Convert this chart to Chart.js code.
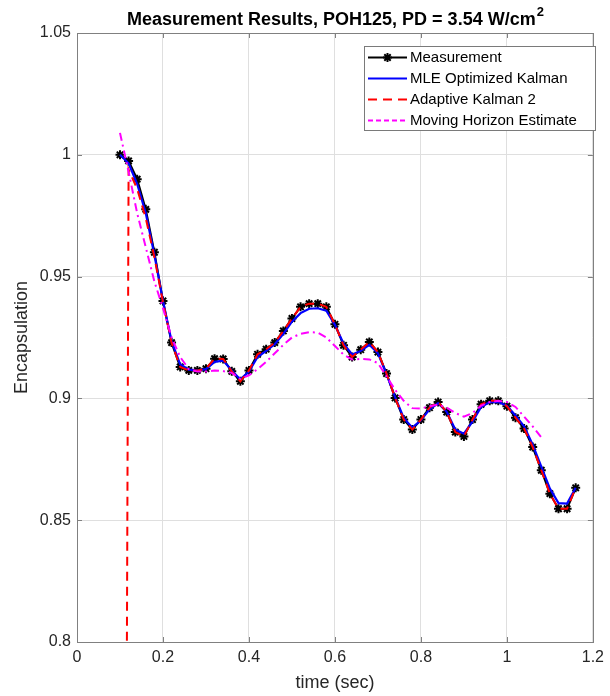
<!DOCTYPE html>
<html><head><meta charset="utf-8">
<script src="https://cdn.jsdelivr.net/npm/chart.js@4/dist/chart.umd.min.js"></script>
<style>html,body{margin:0;padding:0;background:#fff;overflow:hidden}</style>
</head><body>
<canvas id="c" width="610" height="696" style="width:610px;height:696px;display:block"></canvas>
<script>
// ---- data ----
const chartTitle = 'Measurement Results, POH125, PD = 3.54 W/cm';
const chartTitleSup = '2';
const xTitle = 'time (sec)';
const yTitle = 'Encapsulation';
const seriesNames = ['Measurement', 'MLE Optimized Kalman', 'Adaptive Kalman 2', 'Moving Horizon Estimate'];

const timeSec = [0.10,0.12,0.14,0.16,0.18,0.20,0.22,0.24,0.26,0.28,0.30,0.32,0.34,0.36,0.38,0.40,0.42,0.44,0.46,0.48,
  0.50,0.52,0.54,0.56,0.58,0.60,0.62,0.64,0.66,0.68,0.70,0.72,0.74,0.76,0.78,0.80,0.82,0.84,0.86,0.88,
  0.90,0.92,0.94,0.96,0.98,1.00,1.02,1.04,1.06,1.08,1.10,1.12,1.14,1.16];

const measurement = [1.000,0.9975,0.990,0.9776,0.960,0.940,0.9229,0.9129,0.9115,0.9115,0.9122,0.9163,0.9162,0.9111,0.9070,0.9115,0.9181,0.9202,0.9229,0.9277,
  0.9328,0.9376,0.9389,0.9389,0.9376,0.9304,0.9218,0.9170,0.9200,0.9232,0.9190,0.9102,0.9002,0.8913,0.8872,0.8913,0.8962,0.8985,0.8944,0.8862,
  0.8844,0.8913,0.8976,0.8990,0.8990,0.8968,0.8921,0.8876,0.8800,0.8705,0.8609,0.8547,0.8547,0.8633];

const mleKalman = [1.000,0.9965,0.988,0.976,0.959,0.940,0.9235,0.914,0.9118,0.9115,0.912,0.915,0.9155,0.9115,0.9078,0.911,0.917,0.9195,0.9222,0.9265,
  0.9315,0.935,0.9368,0.9370,0.936,0.9302,0.9225,0.918,0.9195,0.922,0.9185,0.910,0.9005,0.892,0.888,0.891,0.8955,0.898,0.8945,0.8872,
  0.8855,0.8905,0.8965,0.8985,0.8985,0.897,0.893,0.8885,0.881,0.872,0.863,0.857,0.8568,0.8633];

const adaptiveKalman2 = [0.000,0.994,0.986,0.974,0.958,0.9395,0.9229,0.9129,0.9115,0.9115,0.9122,0.9163,0.9162,0.9111,0.9070,0.9115,0.9181,0.9202,0.9229,0.9277,
  0.9328,0.9376,0.9389,0.9389,0.9376,0.9304,0.9218,0.9170,0.9200,0.9232,0.9190,0.9102,0.9002,0.8913,0.8872,0.8913,0.8962,0.8985,0.8944,0.8862,
  0.8844,0.8913,0.8976,0.8990,0.8990,0.8968,0.8921,0.8876,0.8800,0.8705,0.8609,0.8547,0.8547,0.8633];

const mheTimeSec = [0.10,0.12,0.14,0.16,0.18,0.20,0.22,0.24,0.26,0.28,0.30,0.32,0.34,0.36,0.38,0.40,0.42,0.44,0.46,0.48,
  0.50,0.52,0.54,0.56,0.58,0.60,0.62,0.64,0.66,0.68,0.70,0.72,0.74,0.76,0.78,0.80,0.82,0.84,0.86,0.88,
  0.90,0.92,0.94,0.96,0.98,1.00,1.02,1.04,1.06,1.08];
const movingHorizon = [1.009,0.993,0.976,0.962,0.948,0.937,0.925,0.917,0.912,0.911,0.911,0.9115,0.9112,0.9105,0.908,0.9095,0.912,0.915,0.9185,0.922,
  0.925,0.9265,0.9272,0.927,0.925,0.9215,0.918,0.916,0.9162,0.916,0.9145,0.909,0.9035,0.899,0.896,0.8958,0.8968,0.8975,0.8962,0.894,
  0.8925,0.894,0.897,0.8985,0.899,0.8985,0.8965,0.8925,0.8885,0.884];

const xTicks = [0,0.2,0.4,0.6,0.8,1,1.2];
const yTicks = [0.8,0.85,0.9,0.95,1,1.05];

// ---- chart ----
const FONT = '"Liberation Sans", Arial, Helvetica, sans-serif';
const AXIS_COLOR = '#808080';
const TEXT_COLOR = '#262626';
const pts = (xs, ys) => xs.map((x, i) => ({x: x, y: ys[i]}));

const decor = {
  id: 'decor',
  beforeDraw(chart) {
    const c = chart.ctx;
    c.save(); c.fillStyle = '#fff'; c.fillRect(0, 0, chart.width, chart.height); c.restore();
  },
  afterDatasetsDraw(chart) {
    const c = chart.ctx, a = chart.chartArea;
    const xs = chart.scales.x, ys = chart.scales.y;
    c.save();
    // box
    c.strokeStyle = AXIS_COLOR; c.lineWidth = 1;
    c.strokeRect(Math.round(a.left) + 0.5, Math.round(a.top) + 0.5, Math.round(a.right - a.left), Math.round(a.bottom - a.top));
    // inward ticks
    const tl = 5;
    c.beginPath();
    xTicks.forEach(v => {
      const px = Math.round(xs.getPixelForValue(v)) + 0.5;
      c.moveTo(px, a.bottom); c.lineTo(px, a.bottom - tl);
      c.moveTo(px, a.top); c.lineTo(px, a.top + tl);
    });
    yTicks.forEach(v => {
      const py = Math.round(ys.getPixelForValue(v)) + 0.5;
      c.moveTo(a.left, py); c.lineTo(a.left + tl, py);
      c.moveTo(a.right, py); c.lineTo(a.right - tl, py);
    });
    c.stroke();
    // title with superscript
    c.fillStyle = '#000';
    c.font = 'bold 18px ' + FONT;
    const w1 = c.measureText(chartTitle).width;
    c.font = 'bold 13px ' + FONT;
    const w2 = c.measureText(chartTitleSup).width;
    const tx = (a.left + a.right) / 2 - (w1 + w2) / 2;
    c.textAlign = 'left'; c.textBaseline = 'alphabetic';
    c.font = 'bold 18px ' + FONT;
    c.fillText(chartTitle, tx, 25);
    c.font = 'bold 13px ' + FONT;
    c.fillText(chartTitleSup, tx + w1 + 1, 16);
    // axis titles
    c.textAlign = 'center'; c.textBaseline = 'middle';
    c.fillStyle = TEXT_COLOR;
    c.font = '18px ' + FONT;
    c.fillText(xTitle, (a.left + a.right) / 2, 683);
    c.save();
    c.translate(22, (a.top + a.bottom) / 2);
    c.rotate(-Math.PI / 2);
    c.fillText(yTitle, 0, 0);
    c.restore();
    // legend
    const L = {x: 364.5, y: 46.5, w: 231, h: 84};
    c.fillStyle = '#fff';
    c.fillRect(L.x, L.y, L.w, L.h);
    c.strokeStyle = '#7a7a7a'; c.lineWidth = 1;
    c.strokeRect(L.x, L.y, L.w, L.h);
    c.font = '15px ' + FONT;
    c.textAlign = 'left'; c.textBaseline = 'middle';
    const rowY = [57, 78, 99, 120];
    chart.data.datasets.forEach((ds, i) => {
      const y = rowY[i] + 0.5;
      c.save();
      c.strokeStyle = ds.borderColor; c.lineWidth = ds.borderWidth;
      c.setLineDash(ds.legendDash || ds.borderDash || []);
      c.beginPath(); c.moveTo(368, y); c.lineTo(407, y); c.stroke();
      c.restore();
      if (ds.pointRadius > 0) {
        c.save(); c.strokeStyle = ds.pointBorderColor; c.lineWidth = ds.pointBorderWidth; c.fillStyle = ds.pointBorderColor;
        Chart.helpers.drawPoint(c, {pointStyle: ds.pointStyle, radius: ds.pointRadius, borderWidth: ds.pointBorderWidth}, 387.5, y);
        c.restore();
      }
      c.fillStyle = '#000';
      c.fillText(ds.label, 410, y);
    });
    c.restore();
  }
};

new Chart(document.getElementById('c'), {
  type: 'line',
  data: {
    datasets: [
      { label: seriesNames[0], data: pts(timeSec, measurement), borderColor: '#000000', backgroundColor: '#000000',
        borderWidth: 2, pointStyle: 'star', pointRadius: 4.5, pointBorderWidth: 2, pointBorderColor: '#000000',
        pointBackgroundColor: '#000000', order: 4, tension: 0 },
      { label: seriesNames[1], data: pts(timeSec, mleKalman), borderColor: '#0000ff', backgroundColor: '#0000ff',
        borderWidth: 2.2, pointRadius: 0, order: 3, tension: 0 },
      { label: seriesNames[2], data: pts(timeSec, adaptiveKalman2), borderColor: '#ff0000', backgroundColor: '#ff0000',
        borderWidth: 2, borderDash: [9, 6], pointRadius: 0, order: 2, tension: 0 },
      { label: seriesNames[3], data: pts(mheTimeSec, movingHorizon), borderColor: '#ff00ff', backgroundColor: '#ff00ff',
        borderWidth: 2, borderDash: [8, 4, 2, 4], legendDash: [5, 3], pointRadius: 0, order: 1, tension: 0 }
    ]
  },
  options: {
    responsive: false, animation: false, devicePixelRatio: 1,
    layout: { padding: { top: 33, right: 12, left: 0, bottom: 0 } },
    plugins: { legend: { display: false }, title: { display: false }, tooltip: { enabled: false } },
    scales: {
      x: {
        type: 'linear', min: 0, max: 1.2,
        afterFit(s) { s.height = 54; },
        afterBuildTicks(s) { s.ticks = xTicks.map(v => ({value: v})); },
        ticks: { color: TEXT_COLOR, font: { family: FONT, size: 16 }, padding: 6, maxRotation: 0,
          callback: v => String(Number(v.toFixed(2))) },
        grid: { color: '#dfdfdf', lineWidth: 1, drawTicks: false },
        border: { display: false }
      },
      y: {
        type: 'linear', min: 0.8, max: 1.05,
        afterFit(s) { s.width = 77; },
        afterBuildTicks(s) { s.ticks = yTicks.map(v => ({value: v})); },
        ticks: { color: TEXT_COLOR, font: { family: FONT, size: 16 }, padding: 6,
          callback: v => String(Number(v.toFixed(2))) },
        grid: { color: '#dfdfdf', lineWidth: 1, drawTicks: false },
        border: { display: false }
      }
    }
  },
  plugins: [decor]
});
</script>
</body></html>
